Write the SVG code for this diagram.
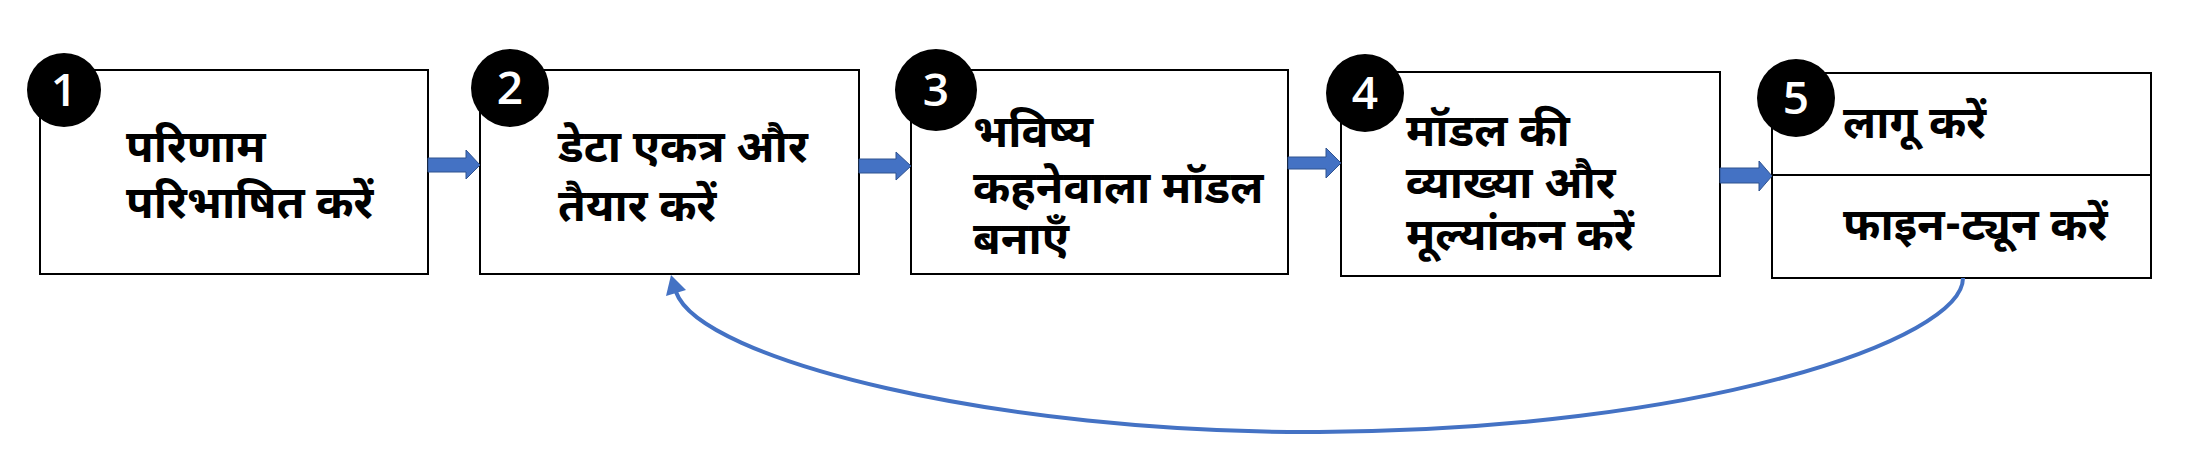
<svg xmlns="http://www.w3.org/2000/svg" width="2186" height="464" viewBox="0 0 2186 464">
<style>
.box{fill:#ffffff;stroke:#000000;stroke-width:2}
.num{fill:#000000}
.numt{fill:#ffffff;font-family:"Open Sans","Liberation Sans",sans-serif;font-size:46px;font-weight:600;text-anchor:middle}
.lbl{fill:#000000;font-family:"Nirmala UI","Noto Sans Devanagari","Lohit Devanagari","Noto Sans",sans-serif;font-weight:bold;font-size:45px}
.blk{fill:#4472C4;stroke:#2F528F;stroke-width:1}
.curve{fill:none;stroke:#4472C4;stroke-width:4}
</style>
<rect width="2186" height="464" fill="#ffffff"/>
<g id="node1">
<rect class="box" x="40" y="70" width="388" height="204"/>
<circle class="num" cx="64" cy="90" r="37"/>
<text class="numt" x="64" y="106">1</text>
<text class="lbl" x="126" y="162">परिणाम</text>
<text class="lbl" x="126" y="218">परिभाषित करें</text>
</g>
<g id="node2">
<rect class="box" x="480" y="70" width="379" height="204"/>
<circle class="num" cx="510" cy="88" r="39"/>
<text class="numt" x="510" y="104">2</text>
<text class="lbl" x="558" y="162">डेटा एकत्र और</text>
<text class="lbl" x="558" y="221">तैयार करें</text>
</g>
<g id="node3">
<rect class="box" x="911" y="70" width="377" height="204"/>
<circle class="num" cx="936" cy="90" r="41"/>
<text class="numt" x="936" y="106">3</text>
<text class="lbl" x="973" y="147">भविष्य</text>
<text class="lbl" x="973" y="203">कहनेवाला मॉडल</text>
<text class="lbl" x="973" y="254">बनाएँ</text>
</g>
<g id="node4">
<rect class="box" x="1341" y="72" width="379" height="204"/>
<circle class="num" cx="1365" cy="93" r="39"/>
<text class="numt" x="1365" y="109">4</text>
<text class="lbl" x="1406" y="146">मॉडल की</text>
<text class="lbl" x="1406" y="198">व्याख्या और</text>
<text class="lbl" x="1406" y="250">मूल्यांकन करें</text>
</g>
<g id="node5">
<rect class="box" x="1772" y="73" width="379" height="205"/>
<line x1="1772" y1="175" x2="2151" y2="175" stroke="#000000" stroke-width="2"/>
<circle class="num" cx="1796" cy="98" r="39"/>
<text class="numt" x="1796" y="114">5</text>
<text class="lbl" x="1843" y="138">लागू करें</text>
<text class="lbl" x="1843" y="240">फाइन-ट्यून करें</text>
</g>
<g id="connectors">
<polygon class="blk" points="428,158 466,158 466,150 480,165 466,179 466,172 428,172"/>
<polygon class="blk" points="859,159 896,159 896,152 911,166 896,180 896,173 859,173"/>
<polygon class="blk" points="1288,157 1326,157 1326,148 1341,163 1326,178 1326,169 1288,169"/>
<polygon class="blk" points="1720,168 1759,168 1759,161 1772,176 1759,191 1759,183 1720,183"/>
<path class="curve" d="M1963,278 C1963,340 1700,430 1319,432 C1000,434 700,360 676,292"/>
<polygon fill="#4472C4" points="671,275 666,296 686,290"/>
</g>
</svg>
